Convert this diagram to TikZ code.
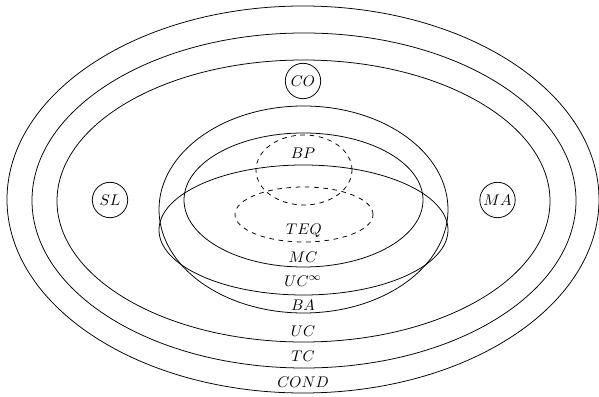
\documentclass[tikz,border=0pt]{standalone}
\begin{document}
\begin{tikzpicture}[x=0.65pt,y=0.65pt,
  setline/.style={line width=0.5pt},
  dashline/.style={line width=0.5pt,dashed},
  lab/.style={inner sep=0pt},
  cls/.style={draw,circle,line width=0.5pt,inner sep=0pt,minimum size=23pt}]
\useasboundingbox (0,0) rectangle (599,-397);
% outer ellipses
\draw[setline] (303,-199.5) ellipse [x radius=296, y radius=193.5];
\draw[setline] (304,-200.5) ellipse [x radius=272, y radius=167.5];
\draw[setline] (303.5,-201) ellipse [x radius=246.5, y radius=141];
% inner ellipses
\draw[setline] (303.5,-209.5) ellipse [x radius=144.5, y radius=103.5];
\draw[setline] (303.5,-200) ellipse [x radius=119.5, y radius=67];
\draw[setline] (303.5,-230) ellipse [x radius=144.5, y radius=65];
% dashed
\draw[dashline] (304,-170) ellipse [x radius=48, y radius=35];
\draw[dashline] (304,-214.5) ellipse [x radius=69, y radius=27.5];
% labels
\node[lab] (bp) at (303,-153) {$BP$};
\node[lab] (teq) at (304,-231) {$TEQ$};
\node[lab] (mc) at (303,-257) {$MC$};
\node[lab] (ucinf) at (303,-281) {$UC^\infty$};
\node[lab] (ba) at (303,-305) {$BA$};
\node[lab] (uc) at (303,-331) {$UC$};
\node[lab] (tc) at (303,-356) {$TC$};
\node[lab] (cond) at (303,-382) {$COND$};
% circles
\node[cls] (co) at (303,-81) {$CO$};
\node[cls] (sl) at (110,-200) {$SL$};
\node[cls] (ma) at (497.5,-200) {$MA$};
\end{tikzpicture}
\end{document}
